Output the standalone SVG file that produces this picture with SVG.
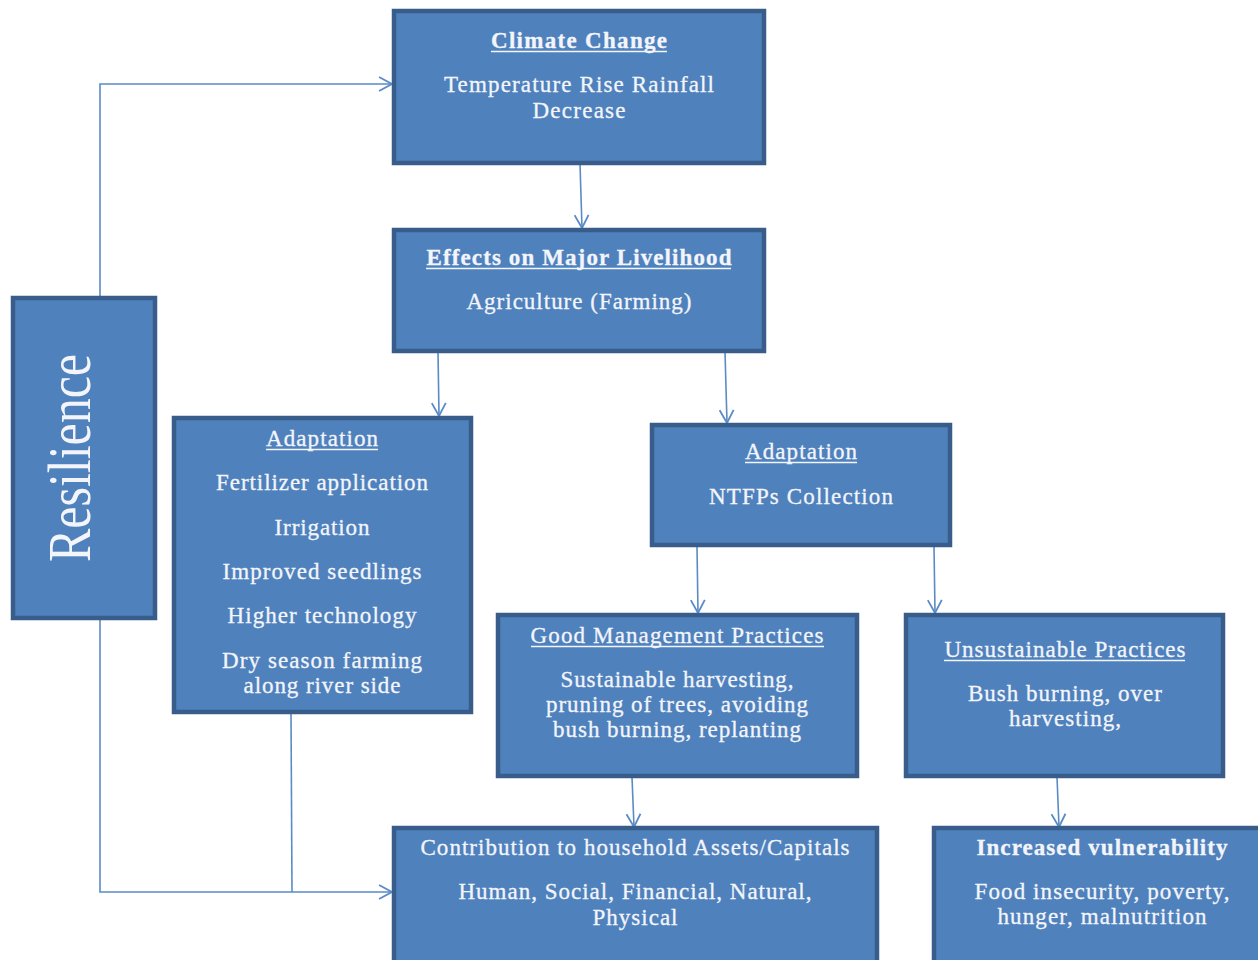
<svg xmlns="http://www.w3.org/2000/svg" width="1258" height="960" viewBox="0 0 1258 960">
<style>
.box{fill:#4F81BD;stroke:#385D8A;stroke-width:4.5}
.t{font-family:"Liberation Serif","Times New Roman",serif;font-size:23px;fill:#F3F5FA;stroke:#F3F5FA;stroke-width:0.3;text-anchor:middle}
.b{font-weight:bold}
.ul{stroke:#F3F5FA;stroke-width:1.4}
.c{fill:none;stroke:#5B8BC6;stroke-width:1.6}
</style>
<defs>
<marker id="ah" viewBox="0 0 16 16" refX="15" refY="8" markerWidth="16" markerHeight="16" markerUnits="userSpaceOnUse" orient="auto">
<path d="M2,1 L15,8 L2,15" fill="none" stroke="#5B8BC6" stroke-width="1.8"/>
</marker>
</defs>
<rect width="1258" height="960" fill="#FFFFFF"/>
<g id="connectors">
<path class="c" d="M580,164 L582,228" marker-end="url(#ah)"/>
<path class="c" d="M438,352 L439,416" marker-end="url(#ah)"/>
<path class="c" d="M725,352 L727,423" marker-end="url(#ah)"/>
<path class="c" d="M697,546 L698,613" marker-end="url(#ah)"/>
<path class="c" d="M934,546 L935,613" marker-end="url(#ah)"/>
<path class="c" d="M632,777 L634,827" marker-end="url(#ah)"/>
<path class="c" d="M1057,777 L1059,827" marker-end="url(#ah)"/>
<path class="c" d="M100,297 L100,84 L392,84" marker-end="url(#ah)"/>
<path class="c" d="M100,619 L100,892 L392,892" marker-end="url(#ah)"/>
<path class="c" d="M291,713 L292,892"/>
</g>
<g id="climate">
<rect class="box" x="394" y="11" width="370" height="152"/>
<text class="t b" x="579" y="48" textLength="176" lengthAdjust="spacing">Climate Change</text>
<line class="ul" x1="491" y1="51.5" x2="667" y2="51.5"/>
<text class="t" x="579" y="92" textLength="270" lengthAdjust="spacing">Temperature Rise Rainfall</text>
<text class="t" x="579" y="118" textLength="93" lengthAdjust="spacing">Decrease</text>
</g>
<g id="effects">
<rect class="box" x="394" y="230" width="370" height="121"/>
<text class="t b" x="579" y="265" textLength="305" lengthAdjust="spacing">Effects on Major Livelihood</text>
<line class="ul" x1="426" y1="268.5" x2="731" y2="268.5"/>
<text class="t" x="579" y="309" textLength="225" lengthAdjust="spacing">Agriculture (Farming)</text>
</g>
<g id="resilience">
<rect class="box" x="13" y="298" width="142" height="320"/>
<text transform="translate(90,458) rotate(-90)" font-family="Liberation Serif, Times New Roman, serif" font-size="62" fill="#F3F5FA" text-anchor="middle" textLength="208" lengthAdjust="spacingAndGlyphs">Resilience</text>
</g>
<g id="adaptation-farming">
<rect class="box" x="174" y="418" width="297" height="294"/>
<text class="t" x="322" y="446" textLength="112" lengthAdjust="spacing">Adaptation</text>
<line class="ul" x1="266" y1="449.5" x2="378" y2="449.5"/>
<text class="t" x="322" y="490" textLength="212" lengthAdjust="spacing">Fertilizer application</text>
<text class="t" x="322" y="535" textLength="95" lengthAdjust="spacing">Irrigation</text>
<text class="t" x="322" y="579" textLength="199" lengthAdjust="spacing">Improved seedlings</text>
<text class="t" x="322" y="623" textLength="189" lengthAdjust="spacing">Higher technology</text>
<text class="t" x="322" y="668" textLength="200" lengthAdjust="spacing">Dry season farming</text>
<text class="t" x="322" y="693" textLength="157" lengthAdjust="spacing">along river side</text>
</g>
<g id="adaptation-ntfp">
<rect class="box" x="652" y="425" width="298" height="120"/>
<text class="t" x="801" y="459" textLength="112" lengthAdjust="spacing">Adaptation</text>
<line class="ul" x1="745" y1="462.5" x2="857" y2="462.5"/>
<text class="t" x="801" y="504" textLength="184" lengthAdjust="spacing">NTFPs Collection</text>
</g>
<g id="good-practices">
<rect class="box" x="498" y="615" width="359" height="161"/>
<text class="t" x="677" y="643" textLength="293" lengthAdjust="spacing">Good Management Practices</text>
<line class="ul" x1="531" y1="646.5" x2="824" y2="646.5"/>
<text class="t" x="677" y="687" textLength="233" lengthAdjust="spacing">Sustainable harvesting,</text>
<text class="t" x="677" y="712" textLength="262" lengthAdjust="spacing">pruning of trees, avoiding</text>
<text class="t" x="677" y="737" textLength="248" lengthAdjust="spacing">bush burning, replanting</text>
</g>
<g id="unsustainable">
<rect class="box" x="906" y="615" width="317" height="161"/>
<text class="t" x="1065" y="657" textLength="241" lengthAdjust="spacing">Unsustainable Practices</text>
<line class="ul" x1="944" y1="660.5" x2="1185" y2="660.5"/>
<text class="t" x="1065" y="701" textLength="194" lengthAdjust="spacing">Bush burning, over</text>
<text class="t" x="1065" y="726" textLength="112" lengthAdjust="spacing">harvesting,</text>
</g>
<g id="contribution">
<rect class="box" x="394" y="828" width="483" height="140"/>
<text class="t" x="635" y="855" textLength="429" lengthAdjust="spacing">Contribution to household Assets/Capitals</text>
<text class="t" x="635" y="899" textLength="353" lengthAdjust="spacing">Human, Social, Financial, Natural,</text>
<text class="t" x="635" y="925" textLength="85" lengthAdjust="spacing">Physical</text>
</g>
<g id="vulnerability">
<rect class="box" x="934" y="828" width="340" height="140"/>
<text class="t b" x="1102" y="855" textLength="251" lengthAdjust="spacing">Increased vulnerability</text>
<text class="t" x="1102" y="899" textLength="255" lengthAdjust="spacing">Food insecurity, poverty,</text>
<text class="t" x="1102" y="924" textLength="209" lengthAdjust="spacing">hunger, malnutrition</text>
</g>
</svg>
